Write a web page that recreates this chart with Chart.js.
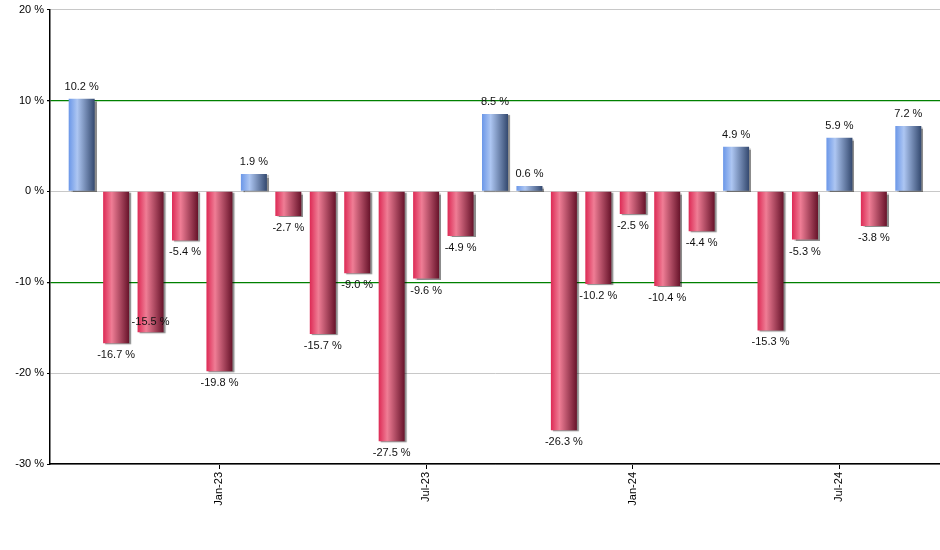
<!DOCTYPE html>
<html>
<head>
<meta charset="utf-8">
<script src="https://cdn.jsdelivr.net/npm/chart.js@4.4.1/dist/chart.umd.min.js"></script>
<style>
html,body{margin:0;padding:0;background:#fff;}
#wrap{width:940px;height:550px;}
</style>
</head>
<body>
<div id="wrap"><canvas id="c" width="940" height="550"></canvas></div>
<script>
// Months (Sep-22 .. Sep-24)
const months = ['Sep-22','Oct-22','Nov-22','Dec-22','Jan-23','Feb-23','Mar-23','Apr-23','May-23','Jun-23','Jul-23','Aug-23','Sep-23','Oct-23','Nov-23','Dec-23','Jan-24','Feb-24','Mar-24','Apr-24','May-24','Jun-24','Jul-24','Aug-24','Sep-24'];
// Monthly returns in %
const returns = [10.2,-16.7,-15.5,-5.4,-19.8,1.9,-2.7,-15.7,-9.0,-27.5,-9.6,-4.9,8.5,0.6,-26.3,-10.2,-2.5,-10.4,-4.4,4.9,-15.3,-5.3,5.9,-3.8,7.2];
// Labelled x ticks
const shownTicks = ['Jan-23','Jul-23','Jan-24','Jul-24'];
// Y ticks
const yTicks = [-30,-20,-10,0,10,20];
const greenLines = [10,-10];

const FONT = "'Liberation Sans', Arial, sans-serif";

function barGradient(ctx){
  const chart = ctx.chart;
  const xs = chart.scales && chart.scales.x;
  const v = returns[ctx.dataIndex];
  if(!xs || !chart.chartArea || xs.width === undefined){ return v>=0 ? '#8fb0ee' : '#c8304e'; }
  const cx = xs.getPixelForValue(ctx.dataIndex);
  const half = (xs.getPixelForValue(1) - xs.getPixelForValue(0)) * 0.755 / 2;
  const g = chart.ctx.createLinearGradient(cx-half,0,cx+half,0);
  if(v>=0){
    g.addColorStop(0,'#6b97e8');
    g.addColorStop(0.33,'#adc6f2');
    g.addColorStop(1,'#34496f');
  } else {
    g.addColorStop(0,'#dd2a55');
    g.addColorStop(0.33,'#ef7d95');
    g.addColorStop(1,'#67132a');
  }
  return g;
}

const shadowPlugin = {
  id:'shadow',
  beforeDatasetsDraw(chart){
    const c = chart.ctx;
    c.save();
    c.shadowColor = 'rgba(0,0,0,0.45)';
    c.shadowOffsetX = 2;
    c.shadowOffsetY = 1;
    c.shadowBlur = 1;
  },
  afterDatasetsDraw(chart){
    chart.ctx.restore();
    const c = chart.ctx;
    const meta = chart.getDatasetMeta(0);
    c.save();
    c.font = '11px ' + FONT;
    c.fillStyle = '#111';
    c.textAlign = 'center';
    c.textBaseline = 'middle';
    let prev = null;
    meta.data.forEach((el,i)=>{
      const v = returns[i];
      const txt = v.toFixed(1) + ' %';
      const w = c.measureText(txt).width;
      let y = v>=0 ? el.y - 12 : el.y + 12;
      const x = el.x;
      if(prev && Math.abs(prev.x - x) < (prev.w + w)/2 && Math.abs(prev.y - y) < 13){
        y = v>=0 ? el.y + 10 : el.y - 10;
      }
      c.fillText(txt, x, y);
      prev = {x,y,w};
    });
    c.restore();
  }
};

new Chart(document.getElementById('c'),{
  type:'bar',
  data:{
    datasets:[{
      data: returns.map((v,i)=>({x:i,y:v})),
      backgroundColor: barGradient,
      borderWidth:0,
      barPercentage:0.755,
      categoryPercentage:1
    }]
  },
  options:{
    responsive:false,
    animation:false,
    layout:{padding:{top:9,right:0,bottom:0,left:0}},
    plugins:{legend:{display:false},tooltip:{enabled:false}},
    scales:{
      x:{
        type:'linear',
        offset:false,
        min:-0.92,
        max:24.92,
        afterBuildTicks(scale){
          scale.ticks = shownTicks.map(l=>({value: months.indexOf(l)}));
        },
        afterFit(scale){ scale.height = 86; },
        ticks:{
          callback:(v)=>months[v],
          minRotation:90,maxRotation:90,autoSkip:false,
          color:'#000',
          font:{family:FONT,size:11},
          padding:3
        },
        grid:{offset:false,drawOnChartArea:false,tickLength:5,color:'#000',tickColor:'#000'},
        border:{color:'#000',width:1.5}
      },
      y:{
        min:-30,max:20,
        afterBuildTicks(scale){ scale.ticks = yTicks.map(v=>({value:v})); },
        afterFit(scale){ scale.width = 50; },
        ticks:{
          callback:(v)=>v+' %',
          color:'#000',
          font:{family:FONT,size:11},
          padding:3
        },
        grid:{
          color:(ctx)=> greenLines.includes(ctx.tick && ctx.tick.value) ? '#008000' : '#c8c8c8',
          lineWidth:(ctx)=> greenLines.includes(ctx.tick && ctx.tick.value) ? 1.3 : 1,
          tickLength:3,
          tickColor:'#000'
        },
        border:{color:'#000',width:1.5}
      }
    }
  },
  plugins:[shadowPlugin]
});
</script>
</body>
</html>
